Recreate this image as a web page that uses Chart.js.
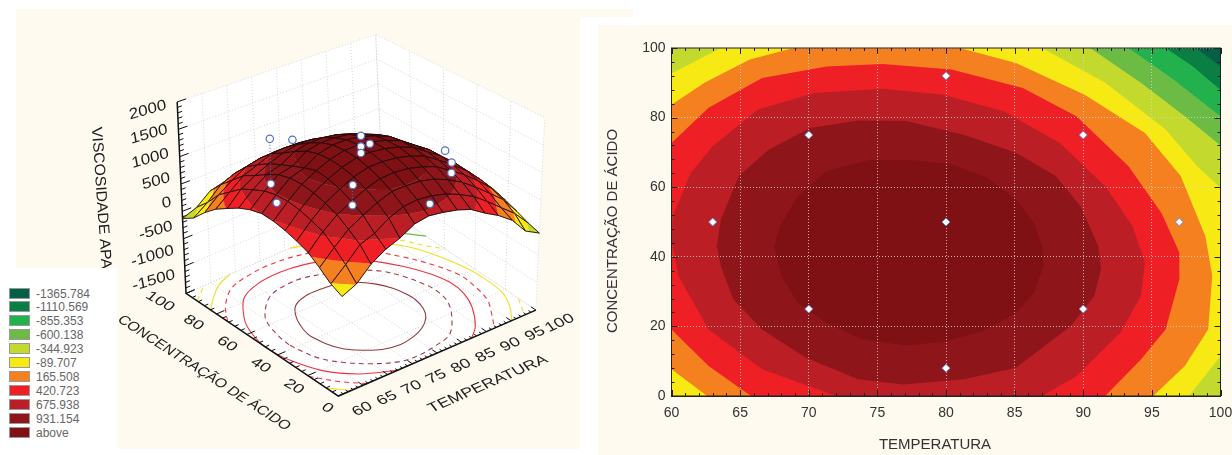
<!DOCTYPE html>
<html>
<head>
<meta charset="utf-8">
<title>Viscosidade</title>
<script src="https://cdn.jsdelivr.net/npm/chart.js@4/dist/chart.umd.js"></script>
<style>
    html, body { margin: 0; padding: 0; background: #fff; overflow: hidden; }
    .cream { position: absolute; background: #fefaf0; }
    canvas { position: absolute; }
    #legendBox { position: absolute; left: 0; top: 268px; width: 117px; height: 187px; background: #fff; }
    .legendRow { position: absolute; left: 9px; height: 14px; font: 12px "Liberation Sans", Arial, sans-serif; color: #666; line-height: 14px; white-space: nowrap; }
    .legendRow i { display: inline-block; width: 19px; height: 9px; border: 1px solid #999; margin-right: 6px; vertical-align: -1px; }
</style>
</head>
<body>
<div class="cream" style="left:16px;top:9px;width:564px;height:440px"></div>
<div class="cream" style="left:580px;top:9px;width:53px;height:8px"></div>
<div class="cream" style="left:598px;top:25px;width:634px;height:430px"></div>
<canvas id="surfaceChart" width="600" height="455" style="left:0;top:0"></canvas>
<div id="legendBox"></div>
<canvas id="contourChart" width="632" height="429" style="left:600px;top:26px"></canvas>

<script>
// Legend: upper limit of each colour band
const bandLevels = [-1365.784, -1110.569, -855.353, -600.138, -344.923, -89.707, 165.508, 420.723, 675.938, 931.154];
const bandLabels = ['-1365.784', '-1110.569', '-855.353', '-600.138', '-344.923', '-89.707', '165.508', '420.723', '675.938', '931.154', 'above'];
const bandColors = ['#045f45', '#0a7f44', '#22b14c', '#6cbb45', '#c4d92e', '#f7ea14', '#f58020', '#ee2025', '#bb1f25', '#8e1519', '#7f1014'];

// Contour outlines, as [temperatura, concentracao]
const contourBelow1365 = [[60, 0], [60, 100], [100, 100], [100, 0]];
const contourAbove1365 = [[60, 0], [60, 100], [98.2, 100], [100, 94.7], [100, 0]];
const contourAbove1110 = [[60, 0], [60, 100], [96, 100], [98, 94.7], [100, 87.9], [100, 0]];
const contourAbove855 = [[60, 0], [60, 100], [93.3, 100], [96.6, 90.9], [100, 80.4], [100, 0]];
const contourAbove600 = [[60, 0], [60, 100], [90.5, 100], [94.2, 90], [97.4, 80.4], [100, 72], [100, 0]];
const contourAbove345 = [[60, 0], [60, 92.7], [63.6, 100], [87, 100], [91.6, 90], [96, 76.6], [98.3, 66], [100, 59.8], [100, 11.5], [97.7, 0]];
const contourAbove90 = [[62.6, 0], [60, 7.7], [60, 83.7], [62.4, 90], [65.7, 96.7], [68.9, 100], [81, 100], [85.1, 95.7], [90.1, 86.6], [94.5, 75.6], [97.1, 63.2], [98.9, 45.9], [99.4, 34.5], [99.1, 19.1], [97.4, 8.6], [95.1, 0]];
const contourAbove165 = [[65.8, 0], [62.7, 8.6], [60, 19.1], [60, 72.7], [62.7, 82.8], [66.6, 91.4], [71.3, 94.7], [75.4, 95.4], [80.4, 93.8], [85.6, 88.5], [89.5, 80.4], [93.3, 66], [95.7, 52.6], [97, 41.2], [97, 33.5], [96, 19.1], [94.2, 10.5], [91.6, 0]];
const contourAbove420 = [[72, 0], [66.6, 7.7], [62.7, 19.1], [60.5, 34.5], [60, 45], [60.1, 51.7], [61.4, 64.1], [63, 71.8], [66.3, 82.3], [70.4, 87.1], [75.4, 88.3], [79.8, 86.6], [84.2, 81.8], [88.3, 72.7], [91.6, 60.3], [93.6, 48.8], [94.5, 38.3], [94.2, 28.7], [92.7, 18.2], [89.5, 5.7], [87, 0]];
const contourAbove675 = [[63.3, 43], [63.6, 50.7], [64.9, 63.2], [67.1, 70.8], [70.1, 77], [73.6, 79.2], [77.1, 79], [81.3, 75.1], [85.1, 69.9], [88, 63.2], [89.8, 54.5], [91.1, 43], [91.3, 36.4], [90.8, 28.7], [89.1, 20.1], [85.1, 8.1], [81.3, 4.8], [76.9, 3.3], [73.6, 4.8], [69.8, 11], [66.6, 19.1], [64.5, 27.8], [63.6, 37.3], [63.3, 43]];
const contourAbove931 = [[67.5, 43], [67.9, 48.8], [69.2, 57.4], [71.3, 64.6], [74.4, 67.8], [77.4, 67.8], [80.4, 66.5], [83, 62.7], [85.1, 56.5], [86.4, 49.8], [87, 43], [87.1, 37.3], [86.4, 29.7], [85.1, 23.9], [82.7, 18.7], [80.1, 15.8], [77.1, 14.5], [73.9, 16.3], [71.3, 21], [69.2, 26.8], [68, 34.5], [67.5, 43]];

// Experimental points on the contour plot
const pointTemp = [63, 70, 70, 80, 80, 80, 90, 90, 97];
const pointConc = [50, 25, 75, 8, 50, 92, 25, 75, 50];

// Surface heights, one row per temperature, one column per concentration
const gridTemp = [60, 62.9, 65.7, 68.6, 71.4, 74.3, 77.1, 80, 82.9, 85.7, 88.6, 91.4, 94.3, 97.1, 100];
const gridConc = [0, 7.1, 14.3, 21.4, 28.6, 35.7, 42.9, 50, 57.1, 64.3, 71.4, 78.6, 85.7, 92.9, 100];
const surfaceHeights = [
    [150, 250, 410, 555, 640, 710, 760, 780, 735, 650, 530, 400, 220, 0, -130],
    [270, 480, 660, 820, 900, 970, 1010, 1015, 970, 880, 780, 610, 440, 180, -30],
    [510, 730, 880, 1020, 1110, 1180, 1220, 1220, 1170, 1060, 930, 810, 610, 410, 170],
    [670, 830, 1030, 1160, 1265, 1335, 1370, 1310, 1230, 1140, 1050, 910, 760, 520, 240],
    [770, 1000, 1160, 1290, 1390, 1450, 1480, 1470, 1410, 1290, 1150, 1020, 820, 570, 320],
    [920, 1110, 1260, 1380, 1470, 1530, 1550, 1540, 1470, 1350, 1210, 1040, 840, 590, 345],
    [970, 1140, 1275, 1400, 1480, 1540, 1560, 1545, 1470, 1360, 1210, 1035, 830, 575, 320],
    [940, 1120, 1265, 1380, 1460, 1515, 1530, 1510, 1440, 1320, 1150, 980, 790, 540, 275],
    [890, 1060, 1210, 1320, 1400, 1450, 1460, 1430, 1350, 1240, 1060, 870, 680, 410, 180],
    [810, 960, 1110, 1230, 1310, 1360, 1365, 1330, 1250, 1110, 940, 770, 580, 320, 60],
    [650, 830, 970, 1070, 1140, 1180, 1180, 1140, 1070, 970, 775, 595, 380, 125, -110],
    [515, 650, 790, 900, 970, 1010, 1010, 960, 860, 720, 545, 370, 140, -70, -330],
    [330, 440, 580, 690, 750, 780, 765, 690, 580, 450, 330, 150, -115, -350, -600],
    [40, 240, 370, 450, 500, 520, 500, 430, 340, 240, 5, -210, -410, -630, -890],
    [-100, -40, 50, 130, 200, 220, 200, 140, 40, -100, -240, -460, -680, -950, -1220]
];
// The colours on the surface sit this much lower than its height on the axis
const surfaceColorOffset = 350;

const obsTemp = [70, 70, 80, 80, 80, 90, 90, 90, 97, 80, 70, 70, 63, 80];
const obsConc = [75, 75, 50, 50, 50, 75, 25, 25, 50, 8, 25, 25, 50, 92];
const obsVisc = [1398, 577, 1524, 1329, 1211, 626, 1111, 921, 678, 965, 1347, 995, 872, 765];
const obsLinks = [[0, 1], [2, 4], [6, 7], [10, 11]];

const tempTicks = [60, 65, 70, 75, 80, 85, 90, 95, 100];
const concTicks = [0, 20, 40, 60, 80, 100];
const viscTicks = [-1500, -1000, -500, 0, 500, 1000, 1500, 2000];

const font = '"Liberation Sans", Arial, sans-serif';

// Legend
bandLabels.forEach((label, i) => {
    const row = document.createElement('div');
    row.className = 'legendRow';
    row.style.top = (18.5 + i * 13.9) + 'px';
    row.innerHTML = '<i style="background:' + bandColors[i] + '"></i>' + label;
    document.getElementById('legendBox').appendChild(row);
});

// ---------- contour plot ----------
function contourSet(points, color) {
    return {
        type: 'scatter', showLine: true, fill: 'shape', backgroundColor: color,
        borderWidth: 0, pointRadius: 0,
        data: points.map(p => ({ x: p[0], y: p[1] }))
    };
}

const contourSets = [
    contourSet(contourBelow1365, bandColors[0]),
    contourSet(contourAbove1365, bandColors[1]),
    contourSet(contourAbove1110, bandColors[2]),
    contourSet(contourAbove855, bandColors[3]),
    contourSet(contourAbove600, bandColors[4]),
    contourSet(contourAbove345, bandColors[5]),
    contourSet(contourAbove90, bandColors[6]),
    contourSet(contourAbove165, bandColors[7]),
    contourSet(contourAbove420, bandColors[8]),
    contourSet(contourAbove675, bandColors[9]),
    contourSet(contourAbove931, bandColors[10]),
    {
        type: 'scatter', showLine: false, pointStyle: 'rectRot', pointRadius: 4,
        pointBackgroundColor: '#fff', pointBorderColor: '#6f8bd0', pointBorderWidth: 1,
        data: pointTemp.map((t, i) => ({ x: t, y: pointConc[i] }))
    }
].reverse();   // first dataset is painted last

const framePlugin = {
    id: 'frame',
    afterDatasetsDraw(chart) {
        const { ctx, chartArea: a, scales: { x, y } } = chart;
        ctx.save();
        ctx.strokeStyle = '#222';
        ctx.lineWidth = 1;
        ctx.strokeRect(a.left, a.top, a.right - a.left, a.bottom - a.top);
        ctx.beginPath();
        for (let v = 60; v <= 100; v += 1) {
            const len = v % 5 === 0 ? 6 : 3, px = Math.round(x.getPixelForValue(v)) + 0.5;
            ctx.moveTo(px, a.bottom); ctx.lineTo(px, a.bottom - len);
            ctx.moveTo(px, a.top); ctx.lineTo(px, a.top + len);
        }
        for (let v = 0; v <= 100; v += 4) {
            const len = v % 20 === 0 ? 6 : 3, py = Math.round(y.getPixelForValue(v)) + 0.5;
            ctx.moveTo(a.left, py); ctx.lineTo(a.left + len, py);
            ctx.moveTo(a.right, py); ctx.lineTo(a.right - len, py);
        }
        ctx.stroke();

        // axis titles, both sit a little off the middle of the plot
        ctx.font = '15px ' + font;
        ctx.fillStyle = '#333';
        ctx.textAlign = 'center';
        ctx.textBaseline = 'middle';
        ctx.fillText('TEMPERATURA', 335, 419);
        ctx.translate(13, 205);
        ctx.rotate(-Math.PI / 2);
        ctx.fillText('CONCENTRAÇÃO DE ÁCIDO', 0, 0);
        ctx.restore();
    }
};

new Chart(document.getElementById('contourChart'), {
    type: 'scatter',
    data: { datasets: contourSets },
    plugins: [framePlugin],
    options: {
        responsive: false, animation: false, events: [],
        layout: { padding: { top: 22, right: 11.5, left: 0, bottom: 0 } },
        plugins: { legend: { display: false }, tooltip: { enabled: false }, filler: { drawTime: 'beforeDraw' } },
        scales: {
            x: {
                type: 'linear', min: 60, max: 100,
                afterFit: s => { s.height = 59; s.paddingLeft = 0; s.paddingRight = 0; },
                ticks: { stepSize: 5, autoSkip: false, maxRotation: 0, padding: 9, color: '#333', font: { family: font, size: 14 } },
                grid: { color: 'rgba(215,215,215,0.8)', tickLength: 0 },
                border: { dash: [1, 2], color: '#222' }
            },
            y: {
                type: 'linear', min: 0, max: 100,
                afterFit: s => { s.width = 71.5; s.paddingTop = 0; s.paddingBottom = 0; },
                ticks: { stepSize: 20, autoSkip: false, padding: 6, color: '#333', font: { family: font, size: 14 } },
                grid: { color: 'rgba(215,215,215,0.8)', tickLength: 0 },
                border: { dash: [1, 2], color: '#222' }
            }
        }
    }
});

// ---------- 3D plot ----------
// corners of the box as they sit in the picture (pixel units of the hidden scales)
const floorOrigin = [339, 400], floorTemp = [201, -88], floorConc = [-155, -105];
const roofOrigin = [347, 184], roofTemp = [202, -69], roofConc = [-172, -85];

function project(temp, conc, visc) {
    const t = (temp - 60) / 40, c = conc / 100, h = (visc + 1500) / 3500;
    const fx = floorOrigin[0] + t * floorTemp[0] + c * floorConc[0];
    const fy = floorOrigin[1] + t * floorTemp[1] + c * floorConc[1];
    const rx = roofOrigin[0] + t * roofTemp[0] + c * roofConc[0];
    const ry = roofOrigin[1] + t * roofTemp[1] + c * roofConc[1];
    return { x: fx + (rx - fx) * h, y: fy + (ry - fy) * h };
}

function lineSet(points, color, width, dash, tension) {
    return {
        type: 'scatter', showLine: true, fill: false, clip: false,
        borderColor: color, borderWidth: width, borderDash: dash || [], tension: tension || 0,
        pointRadius: 0, data: points
    };
}
function shapeSet(points, color, edge) {
    return {
        type: 'scatter', showLine: true, fill: 'shape', clip: false,
        backgroundColor: color, borderColor: color, borderWidth: edge || 0,
        pointRadius: 0, data: points
    };
}
const gap = { x: NaN, y: NaN };
const bottomV = -1500, topV = 2000;

const surfaceSets = [];

// walls and floor
surfaceSets.push(shapeSet([project(60, 0, bottomV), project(100, 0, bottomV), project(100, 100, bottomV), project(60, 100, bottomV)], '#fff'));
surfaceSets.push(shapeSet([project(60, 100, bottomV), project(100, 100, bottomV), project(100, 100, topV), project(60, 100, topV)], '#fff'));
surfaceSets.push(shapeSet([project(100, 0, bottomV), project(100, 100, bottomV), project(100, 100, topV), project(100, 0, topV)], '#fff'));

// dotted grid
const gridPts = [];
tempTicks.forEach(t => {
    gridPts.push(project(t, 0, bottomV), project(t, 100, bottomV), project(t, 100, topV), gap);
});
concTicks.forEach(c => {
    gridPts.push(project(60, c, bottomV), project(100, c, bottomV), project(100, c, topV), gap);
});
viscTicks.forEach(v => {
    gridPts.push(project(60, 100, v), project(100, 100, v), project(100, 0, v), gap);
});
surfaceSets.push(lineSet(gridPts, '#d6d6d6', 1, [1, 2]));

// contour lines on the floor, same outlines as the right plot minus the plot border
function onSameEdge(a, b) {
    return (a[0] === b[0] && (a[0] === 60 || a[0] === 100)) || (a[1] === b[1] && (a[1] === 0 || a[1] === 100));
}
function floorLine(outline, color, dash) {
    const pts = [];
    outline.forEach((p, i) => {
        if (i > 0 && onSameEdge(outline[i - 1], p)) pts.push(gap);
        pts.push(project(p[0], p[1], bottomV));
    });
    surfaceSets.push(lineSet(pts, color, 1.1, dash, 0.35));
}
floorLine(contourAbove600, '#6cbb45');
floorLine(contourAbove345, '#efe020', [5, 4]);
floorLine(contourAbove90, '#efe020');
floorLine(contourAbove165, '#ee3344', [5, 4]);
floorLine(contourAbove420, '#ee3344');
floorLine(contourAbove675, '#a23a46', [5, 4]);
floorLine(contourAbove931, '#93383f');

// axes and tick marks
const axisPts = [project(60, 100, topV), project(60, 100, bottomV), project(60, 0, bottomV), project(100, 0, bottomV)];
surfaceSets.push(lineSet(axisPts, '#111', 1.5));
const tickPts = [];
for (let v = bottomV; v <= topV; v += 100) {
    tickPts.push(project(60, 100, v), project(60 + (v % 500 === 0 ? 1.8 : 0.9), 100, v), gap);
}
for (let t = 60; t <= 100; t += 1) {
    tickPts.push(project(t, 0, bottomV), project(t, t % 5 === 0 ? 3.2 : 1.6, bottomV), gap);
}
for (let c = 0; c <= 100; c += 4) {
    tickPts.push(project(60, c, bottomV), project(c % 20 === 0 ? 61.6 : 60.8, c, bottomV), gap);
}
surfaceSets.push(lineSet(tickPts, '#111', 1));

// surface, cells painted from the back corner to the front one
function clipAbove(poly, limit, keepAbove) {
    const out = [];
    poly.forEach((a, i) => {
        const b = poly[(i + 1) % poly.length];
        const aIn = keepAbove ? a[2] >= limit : a[2] <= limit;
        const bIn = keepAbove ? b[2] >= limit : b[2] <= limit;
        if (aIn) out.push(a);
        if (aIn !== bIn) {
            const f = (limit - a[2]) / (b[2] - a[2]);
            out.push([a[0] + (b[0] - a[0]) * f, a[1] + (b[1] - a[1]) * f, limit]);
        }
    });
    return out;
}

for (let i = gridTemp.length - 2; i >= 0; i--) {
    for (let j = gridConc.length - 2; j >= 0; j--) {
        const cell = [
            [gridTemp[i], gridConc[j], surfaceHeights[i][j]],
            [gridTemp[i + 1], gridConc[j], surfaceHeights[i + 1][j]],
            [gridTemp[i + 1], gridConc[j + 1], surfaceHeights[i + 1][j + 1]],
            [gridTemp[i], gridConc[j + 1], surfaceHeights[i][j + 1]]
        ];
        bandColors.forEach((color, b) => {
            let piece = cell;
            if (b > 0) piece = clipAbove(piece, bandLevels[b - 1] + surfaceColorOffset, true);
            if (b < bandLevels.length && piece.length) piece = clipAbove(piece, bandLevels[b] + surfaceColorOffset, false);
            if (piece.length > 2) surfaceSets.push(shapeSet(piece.map(p => project(p[0], p[1], p[2])), color, 0.6));
        });
        const outline = cell.map(p => project(p[0], p[1], p[2]));
        outline.push(outline[0]);
        surfaceSets.push(lineSet(outline, '#1a0a0a', 0.9));
    }
}

// observations
const linkPts = [];
obsLinks.forEach(l => {
    linkPts.push(project(obsTemp[l[0]], obsConc[l[0]], obsVisc[l[0]]), project(obsTemp[l[1]], obsConc[l[1]], obsVisc[l[1]]), gap);
});
surfaceSets.push(lineSet(linkPts, '#4a66b8', 1, [1, 2]));
surfaceSets.push({
    type: 'scatter', showLine: false, clip: false, pointRadius: 3.7,
    pointBackgroundColor: '#fff', pointBorderColor: '#5570c0', pointBorderWidth: 1.2,
    data: obsTemp.map((t, i) => project(t, obsConc[i], obsVisc[i]))
});

// texts on the box, stretched and sheared the way the picture has them
function skewText(ctx, text, x, y, angle, size, stretch, shear, align) {
    const a = angle * Math.PI / 180;
    ctx.save();
    ctx.transform(Math.cos(a) * stretch, Math.sin(a) * stretch, -Math.sin(a) + shear * Math.cos(a), Math.cos(a) + shear * Math.sin(a), x, y);
    ctx.font = size + 'px ' + font;
    ctx.fillStyle = '#1c1c1c';
    ctx.textAlign = align || 'center';
    ctx.textBaseline = 'middle';
    ctx.fillText(text, 0, 0);
    ctx.restore();
}

const boxText = {
    id: 'boxText',
    afterDatasetsDraw(chart) {
        const { ctx, scales: { x, y } } = chart;
        viscTicks.forEach(v => {
            const p = project(60, 100, v);
            const dy = 3 - 22 * (topV - v) / 3500;
            skewText(ctx, String(v), x.getPixelForValue(p.x) - 11, y.getPixelForValue(p.y) + dy, -16, 15, 1.15, -0.1, 'right');
        });
        tempTicks.forEach(t => {
            const p = project(t, 0, bottomV);
            skewText(ctx, String(t), x.getPixelForValue(p.x) + 24, y.getPixelForValue(p.y) + 13, -24, 14, 1.25, 0.25);
        });
        concTicks.forEach(c => {
            const p = project(60, c, bottomV);
            const dx = -11 - 15 * c / 100, dy = 12 - 4 * c / 100;
            skewText(ctx, String(c), x.getPixelForValue(p.x) + dx, y.getPixelForValue(p.y) + dy, 30, 14, 1.25, -0.25);
        });
        skewText(ctx, 'TEMPERATURA', 488, 384, -23.5, 14, 1.22, 0.25);
        skewText(ctx, 'CONCENTRAÇÃO DE ÁCIDO', 204, 373, 33, 14, 1.06, -0.25);
        skewText(ctx, 'VISCOSIDADE APARENTE', 96, 127, 86, 15, 1.05, 0, 'left');
    }
};

new Chart(document.getElementById('surfaceChart'), {
    type: 'scatter',
    data: { datasets: surfaceSets.reverse() },   // first dataset is painted last
    plugins: [boxText],
    options: {
        responsive: false, animation: false, events: [],
        layout: { padding: 0 },
        plugins: { legend: { display: false }, tooltip: { enabled: false } },
        scales: {
            x: { type: 'linear', min: 0, max: 600, display: false },
            y: { type: 'linear', min: 0, max: 455, reverse: true, display: false }
        }
    }
});
</script>
</body>
</html>
